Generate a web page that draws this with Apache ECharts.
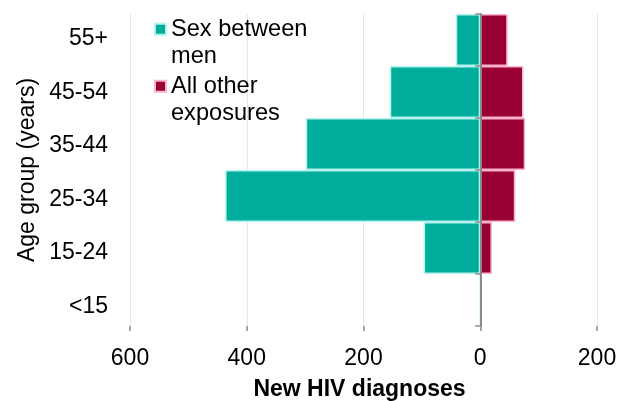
<!DOCTYPE html>
<html>
<head>
<meta charset="utf-8">
<script src="https://cdn.jsdelivr.net/npm/echarts@6/dist/echarts.min.js"></script>
<style>
  html, body { margin: 0; padding: 0; background: #ffffff; }
  #chart { width: 619px; height: 401px; }
</style>
</head>
<body>
<div id="chart"></div>
<script>
// Age groups, bottom to top
const ageGroups = ['<15', '15-24', '25-34', '35-44', '45-54', '55+'];
// New HIV diagnoses by exposure
const sexBetweenMen = [0, 97, 437, 299, 155, 42];
const allOtherExposures = [3, 20, 60, 77, 74, 47];
// Horizontal axis ticks (left side shown as positive counts)
const xTicks = { min: -600, max: 200, step: 200 };

const FONT = "'Liberation Sans', Arial, sans-serif";
const TEAL = '#00ac9c';
const CRIMSON = '#990033';
const AXIS_GREY = '#8a8a8a';

const chart = echarts.init(document.getElementById('chart'), null, { renderer: 'canvas' });

// Legend entries wrap onto two lines; a leading blank line keeps the
// first line level with the swatch.
const legendBase = {
  orient: 'vertical',
  left: 154,
  padding: 0,
  itemWidth: 11,
  itemHeight: 11,
  icon: 'rect',
  textStyle: { fontFamily: FONT, fontSize: 23.6, color: '#000', lineHeight: 27.5 }
};

chart.setOption({
  animation: false,
  grid: [
    { left: 130, right: 22, top: 14, bottom: 75, containLabel: false, outerBoundsMode: 'none' },
    // label strip for the age-group names
    { left: 130, right: 22, top: 12, bottom: 68, containLabel: false, outerBoundsMode: 'none' }
  ],
  legend: [
    Object.assign({}, legendBase, {
      top: -12,
      data: ['Sex between men'],
      formatter: () => '\nSex between\nmen'
    }),
    Object.assign({}, legendBase, {
      top: 45,
      data: ['All other exposures'],
      formatter: () => '\nAll other\nexposures'
    })
  ],
  xAxis: [
    {
      type: 'value',
      gridIndex: 0,
      min: xTicks.min,
      max: xTicks.max,
      interval: xTicks.step,
      name: 'New HIV diagnoses',
      nameLocation: 'middle',
      nameGap: 52,
      nameTextStyle: {
        fontFamily: FONT, fontSize: 23, fontWeight: 'bold', color: '#000',
        padding: [0, 8, 0, 0]
      },
      axisLine: { onZero: false, lineStyle: { color: AXIS_GREY, width: 1.5 } },
      axisTick: { show: true, length: 5, lineStyle: { color: AXIS_GREY, width: 1.5 } },
      axisLabel: {
        fontFamily: FONT, fontSize: 23, color: '#000', margin: 21,
        formatter: v => String(Math.abs(v))
      },
      splitLine: { show: true, lineStyle: { color: '#e6e6e6', width: 1 } }
    },
    {
      type: 'value',
      gridIndex: 1,
      min: xTicks.min,
      max: xTicks.max,
      show: false
    }
  ],
  yAxis: [
    {
      type: 'category',
      gridIndex: 0,
      data: ageGroups,
      position: 'left',
      name: 'Age group (years)',
      nameLocation: 'middle',
      nameGap: 91,
      nameTextStyle: { fontFamily: FONT, fontSize: 23, color: '#000' },
      axisLine: { show: false, onZero: false },
      axisTick: { show: false },
      axisLabel: { show: false },
      splitLine: { show: false }
    },
    {
      // vertical zero line between the two sides
      type: 'category',
      gridIndex: 0,
      data: ageGroups,
      position: 'right',
      z: 5,
      axisLine: { show: true, onZero: true, lineStyle: { color: AXIS_GREY, width: 2 } },
      axisTick: { show: true, inside: true, length: 5, lineStyle: { color: AXIS_GREY, width: 1.5 } },
      axisLabel: { show: false },
      splitLine: { show: false }
    },
    {
      type: 'category',
      gridIndex: 1,
      data: ageGroups,
      position: 'left',
      axisLine: { show: false, onZero: false },
      axisTick: { show: false },
      axisLabel: { fontFamily: FONT, fontSize: 23, color: '#000', margin: 22 },
      splitLine: { show: false }
    }
  ],
  series: [
    {
      name: 'Sex between men',
      type: 'bar',
      xAxisIndex: 0,
      yAxisIndex: 0,
      barCategoryGap: '0%',
      barGap: '-100%',
      data: sexBetweenMen.map(v => -v),
      itemStyle: { color: TEAL, borderColor: '#b4f4ee', borderWidth: 1.5 },
      z: 2
    },
    {
      name: 'All other exposures',
      type: 'bar',
      xAxisIndex: 0,
      yAxisIndex: 0,
      barCategoryGap: '0%',
      barGap: '-100%',
      data: allOtherExposures,
      itemStyle: { color: CRIMSON, borderColor: '#ffb3c8', borderWidth: 1.5 },
      z: 2
    }
  ]
});
</script>
</body>
</html>
